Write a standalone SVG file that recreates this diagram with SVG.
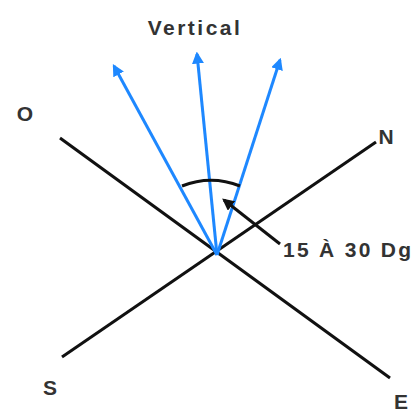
<svg xmlns="http://www.w3.org/2000/svg" width="420" height="412" viewBox="0 0 420 412">
<style>
.ln{stroke:#111;stroke-width:3;fill:none}
.bl{stroke:#1e88ff;stroke-width:3;fill:none}
.t{font-family:"Liberation Sans",Arial,sans-serif;font-weight:bold;fill:#333;font-size:21px}
</style>
<defs>
<marker id="ab" viewBox="0 0 10 10" refX="8" refY="5" markerWidth="4" markerHeight="4" orient="auto" markerUnits="strokeWidth"><path d="M0,0 L10,5 L0,10 z" fill="#1e88ff"/></marker>
<marker id="ak" viewBox="0 0 10 10" refX="8" refY="5" markerWidth="4" markerHeight="4" orient="auto" markerUnits="strokeWidth"><path d="M0,0 L10,5 L0,10 z" fill="#111"/></marker>
</defs>
<rect width="420" height="412" fill="#fff"/>
<g id="connectors">
<line class="ln" x1="60" y1="138" x2="390" y2="378"/>
<line class="ln" x1="62" y1="357" x2="376" y2="142"/>
<line class="bl" x1="217" y1="255" x2="114" y2="66" marker-end="url(#ab)"/>
<line class="bl" x1="217" y1="255" x2="197" y2="54" marker-end="url(#ab)"/>
<line class="bl" x1="217" y1="255" x2="280" y2="60" marker-end="url(#ab)"/>
<path class="ln" d="M182,186 A78,78 0 0 1 240,186"/>
<line class="ln" x1="280" y1="244" x2="224" y2="200" marker-end="url(#ak)"/>
</g>
<g id="vertical"><text class="t" x="195" y="35" text-anchor="middle" letter-spacing="2.5">Vertical</text></g>
<g id="O"><text class="t" x="25" y="121" text-anchor="middle">O</text></g>
<g id="N"><text class="t" x="386" y="144" text-anchor="middle">N</text></g>
<g id="S"><text class="t" x="50" y="395" text-anchor="middle">S</text></g>
<g id="E"><text class="t" x="401" y="409" text-anchor="middle">E</text></g>
<g id="angle"><text class="t" x="283" y="257" letter-spacing="2.3">15 À 30 Dg</text></g>
</svg>
